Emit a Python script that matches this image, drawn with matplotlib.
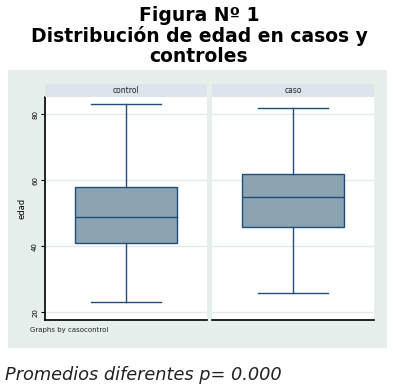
import numpy as np
import matplotlib.pyplot as plt
from matplotlib.patches import Rectangle

# Box plot summaries (edad by casocontrol)
groups = ['control', 'caso']
whislo = [23, 26]
q1 = [41, 46]
med = [49, 55]
q3 = [58, 62]
whishi = [83, 82]
yticks = [20, 40, 60, 80]

W, H = 393, 388
fig = plt.figure(figsize=(W / 100, H / 100), dpi=100)
fig.patch.set_facecolor('white')

def fx(px):
    return px / W

def fy(py):
    return 1 - py / H

# light panel behind the graph
fig.add_artist(Rectangle((fx(8), fy(348)), fx(379), 278 / H, transform=fig.transFigure,
                         facecolor='#e7efed', edgecolor='none', zorder=0))

# title
title_lines = ['Figura Nº 1', 'Distribución de edad en casos y', 'controles']
for yy, t in zip([21, 42, 62], title_lines):
    fig.text(fx(199), fy(yy), t, ha='center', va='baseline', fontsize=13.5,
             fontweight='bold', family='DejaVu Sans')

box_face = '#8ca3b2'
box_edge = '#1f4e79'
lefts = [45, 212]
for i, g in enumerate(groups):
    ax = fig.add_axes([fx(lefts[i]), fy(320), fx(162), 223 / H])
    stats = [dict(whislo=whislo[i], q1=q1[i], med=med[i], q3=q3[i], whishi=whishi[i], label=g)]
    ax.bxp(stats, positions=[0], widths=0.63, showfliers=False, patch_artist=True,
           boxprops=dict(facecolor=box_face, edgecolor=box_edge, linewidth=1),
           medianprops=dict(color=box_edge, linewidth=1),
           whiskerprops=dict(color=box_edge, linewidth=1),
           capprops=dict(color=box_edge, linewidth=1), capwidths=0.43)
    ax.set_xlim(-0.5, 0.5)
    ax.set_ylim(17.7, 85.2)
    ax.set_yticks(yticks)
    ax.yaxis.grid(True, color='#e3ebe9', linewidth=1)
    ax.set_axisbelow(True)
    ax.set_xticks([])
    for s in ['top', 'right']:
        ax.spines[s].set_visible(False)
    ax.spines['bottom'].set_linewidth(1.2)
    if i == 0:
        ax.spines['left'].set_linewidth(1.2)
        ax.tick_params(axis='y', length=3, width=0.8, labelsize=5, pad=2)
        for lab in ax.get_yticklabels():
            lab.set_rotation(90)
            lab.set_va('center')
        ax.set_ylabel('edad', fontsize=6, labelpad=4)
    else:
        ax.spines['left'].set_visible(False)
        ax.tick_params(axis='y', length=0, labelleft=False)
    # strip header
    strip = fig.add_axes([fx(lefts[i]), fy(97), fx(162), 13 / H])
    strip.set_facecolor('#dde4ec')
    strip.set_xticks([])
    strip.set_yticks([])
    for s in strip.spines.values():
        s.set_visible(False)
    strip.text(0.5, 0.5, g, ha='center', va='center', fontsize=5.5, color='#222222')

fig.text(fx(30), fy(330), 'Graphs by casocontrol', ha='left', va='center', fontsize=5,
         color='#222222')

fig.text(fx(5), fy(380), 'Promedios diferentes p= 0.000', ha='left', va='baseline',
         fontsize=12.8, fontstyle='italic', family='DejaVu Sans', color='#222222')

fig.savefig('out.png', dpi=100)
